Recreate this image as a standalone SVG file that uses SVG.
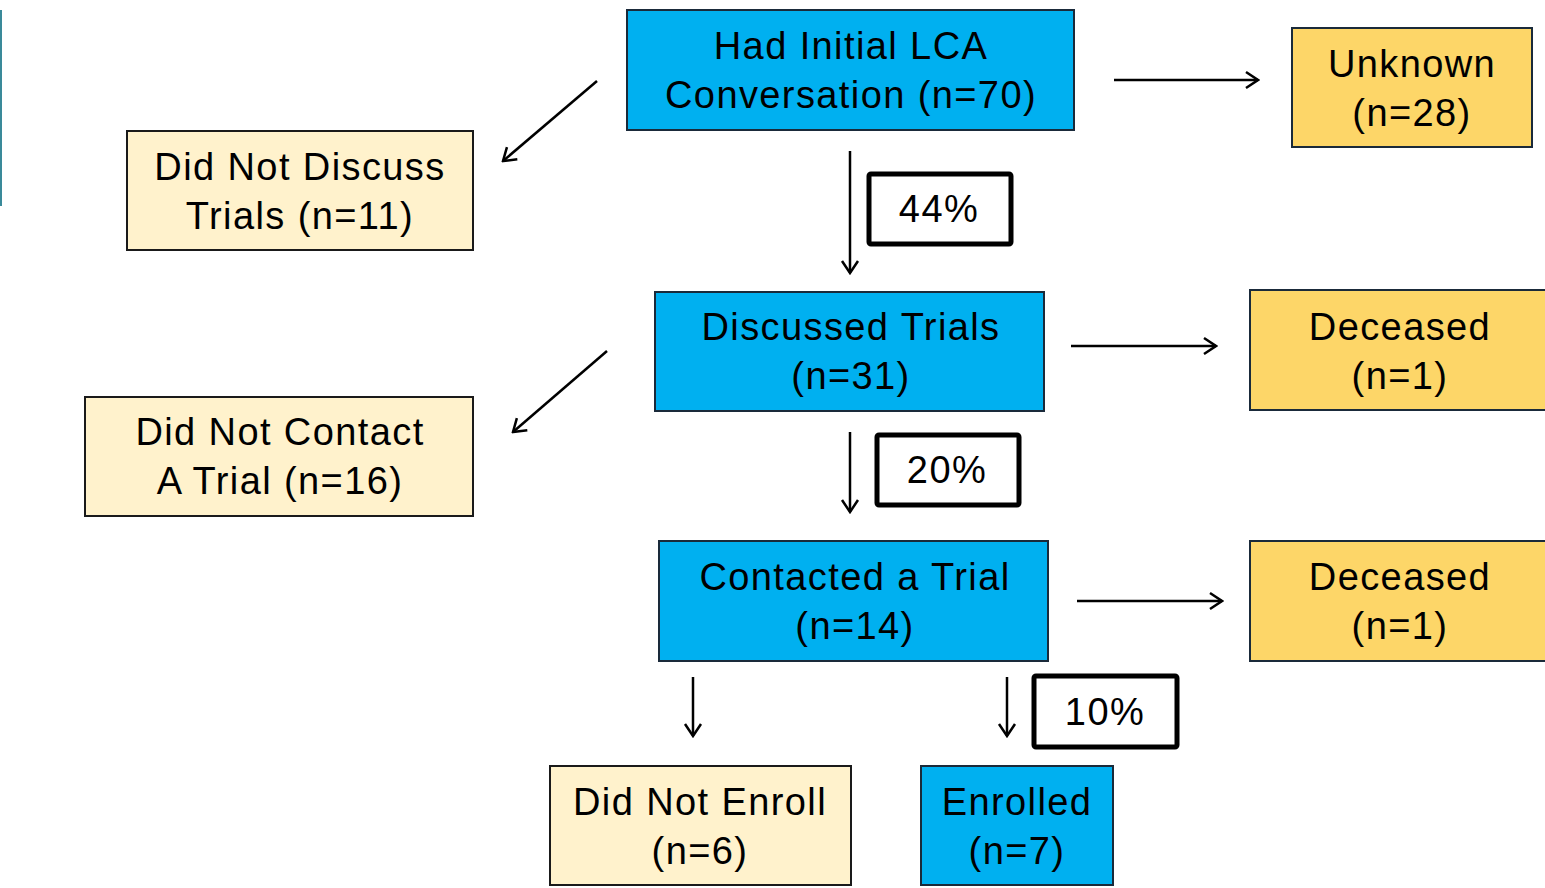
<svg xmlns="http://www.w3.org/2000/svg" width="1545" height="888" viewBox="0 0 1545 888">
<defs>
<style>
.b{fill:#00b0f0;stroke:#1a2a3a;stroke-width:2}
.o{fill:#fdd668;stroke:#1a2a3a;stroke-width:2}
.c{fill:#fff2cc;stroke:#1a1a1a;stroke-width:2}
.p{fill:#fff;stroke:#000;stroke-width:5}
text{font-family:"Liberation Sans",Arial,sans-serif;font-size:38px;fill:#000;text-anchor:middle;letter-spacing:1.4px}
.a{stroke:#000;stroke-width:2.5;fill:none;marker-end:url(#ah)}
</style>
<marker id="ah" viewBox="0 0 20 20" refX="18" refY="10" markerWidth="20" markerHeight="20" markerUnits="userSpaceOnUse" orient="auto">
<path d="M6,2 L18,10 L6,18" fill="none" stroke="#000" stroke-width="2.5"/>
</marker>
</defs>
<rect x="0" y="10" width="2" height="196" fill="#3a8a9a"/>
<g id="connectors">
<line class="a" x1="597" y1="81" x2="503" y2="161"/>
<line class="a" x1="850" y1="151" x2="850" y2="273"/>
<line class="a" x1="1114" y1="80" x2="1258" y2="80"/>
<line class="a" x1="607" y1="351" x2="513" y2="432"/>
<line class="a" x1="850" y1="432" x2="850" y2="512"/>
<line class="a" x1="1071" y1="346" x2="1216" y2="346"/>
<line class="a" x1="1077" y1="601" x2="1222" y2="601"/>
<line class="a" x1="693" y1="677" x2="693" y2="736"/>
<line class="a" x1="1007" y1="677" x2="1007" y2="736"/>
</g>
<g id="n1"><rect class="b" x="627" y="10" width="447" height="120"/><text x="851" y="59">Had Initial LCA</text><text x="851" y="108">Conversation (n=70)</text></g>
<g id="n2"><rect class="o" x="1292" y="28" width="240" height="119"/><text x="1412" y="77">Unknown</text><text x="1412" y="126">(n=28)</text></g>
<g id="n3"><rect class="c" x="127" y="131" width="346" height="119"/><text x="300" y="180">Did Not Discuss</text><text x="300" y="229">Trials (n=11)</text></g>
<g id="p1"><rect class="p" x="869" y="174" width="142" height="70" rx="2"/><text x="939" y="222">44%</text></g>
<g id="n4"><rect class="b" x="655" y="292" width="389" height="119"/><text x="851" y="340">Discussed Trials</text><text x="851" y="389">(n=31)</text></g>
<g id="n5"><rect class="o" x="1250" y="290" width="300" height="120"/><text x="1400" y="340">Deceased</text><text x="1400" y="389">(n=1)</text></g>
<g id="n6"><rect class="c" x="85" y="397" width="388" height="119"/><text x="280" y="445">Did Not Contact</text><text x="280" y="494">A Trial (n=16)</text></g>
<g id="p2"><rect class="p" x="877" y="435" width="142" height="70" rx="2"/><text x="947" y="483">20%</text></g>
<g id="n7"><rect class="b" x="659" y="541" width="389" height="120"/><text x="855" y="590">Contacted a Trial</text><text x="855" y="639">(n=14)</text></g>
<g id="n8"><rect class="o" x="1250" y="541" width="300" height="120"/><text x="1400" y="590">Deceased</text><text x="1400" y="639">(n=1)</text></g>
<g id="p3"><rect class="p" x="1034" y="676" width="143" height="71" rx="2"/><text x="1105" y="725">10%</text></g>
<g id="n9"><rect class="c" x="550" y="766" width="301" height="119"/><text x="700" y="815">Did Not Enroll</text><text x="700" y="864">(n=6)</text></g>
<g id="n10"><rect class="b" x="921" y="766" width="192" height="119"/><text x="1017" y="815">Enrolled</text><text x="1017" y="864">(n=7)</text></g>
</svg>
